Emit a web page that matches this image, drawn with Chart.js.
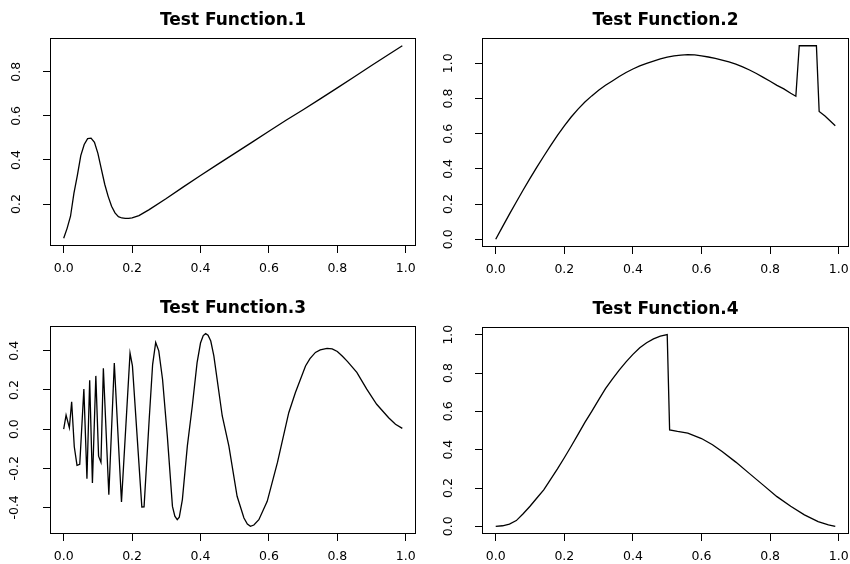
<!DOCTYPE html>
<html>
<head>
<meta charset="utf-8">
<script src="https://cdn.jsdelivr.net/npm/chart.js@4"></script>
<style>
  html, body { margin: 0; padding: 0; background: #fff; }
  #wrap { position: relative; width: 850px; height: 564px; }
  .panel { position: absolute; width: 425px; height: 282px; }
  .panel canvas { display: block; }
</style>
</head>
<body>
<div id="wrap">
  <div class="panel" style="left:0;top:0"><canvas id="p1" width="425" height="282"></canvas></div>
  <div class="panel" style="left:425px;top:0"><canvas id="p2" width="425" height="282"></canvas></div>
  <div class="panel" style="left:0;top:282px"><canvas id="p3" width="425" height="282"></canvas></div>
  <div class="panel" style="left:425px;top:282px"><canvas id="p4" width="425" height="282"></canvas></div>
</div>
<script>
// values
var f1X = [0, 0.01, 0.02, 0.03, 0.04, 0.05, 0.06, 0.07, 0.08, 0.09, 0.10, 0.11, 0.12, 0.13, 0.14, 0.15, 0.16, 0.17, 0.18, 0.19,
  0.20, 0.22, 0.25, 0.30, 0.35, 0.40, 0.45, 0.50, 0.55, 0.60, 0.65, 0.70, 0.75, 0.80, 0.85, 0.90, 0.95, 0.99];
var f1Y = [0.045, 0.09, 0.145, 0.25, 0.33, 0.42, 0.47, 0.497, 0.499, 0.48, 0.43, 0.36, 0.29, 0.235, 0.19, 0.16, 0.143, 0.137, 0.135, 0.135,
  0.137, 0.148, 0.175, 0.225, 0.278, 0.33, 0.38, 0.43, 0.48, 0.53, 0.58, 0.628, 0.677, 0.727, 0.777, 0.828, 0.878, 0.918];

var f2X = [0, 0.02, 0.04, 0.06, 0.08, 0.10, 0.12, 0.14, 0.16, 0.18, 0.20, 0.22, 0.24, 0.26, 0.28, 0.30, 0.32, 0.34, 0.36, 0.38,
  0.40, 0.42, 0.44, 0.46, 0.48, 0.50, 0.52, 0.54, 0.56, 0.58, 0.60, 0.62, 0.64, 0.66, 0.68, 0.70, 0.72, 0.74, 0.76, 0.78,
  0.80, 0.82, 0.84, 0.86, 0.875, 0.885, 0.935, 0.943, 0.96, 0.99];
var f2Y = [0, 0.072, 0.143, 0.212, 0.28, 0.346, 0.41, 0.472, 0.532, 0.59, 0.645, 0.695, 0.74, 0.78, 0.815, 0.847, 0.875, 0.9, 0.925, 0.948,
  0.968, 0.985, 1.0, 1.013, 1.025, 1.035, 1.042, 1.047, 1.05, 1.048, 1.043, 1.036, 1.028, 1.018, 1.008, 0.995, 0.98, 0.962, 0.942, 0.92,
  0.898, 0.875, 0.855, 0.83, 0.813, 1.1, 1.1, 0.726, 0.7, 0.645];

var f3X = [0, 0.007, 0.0166, 0.0233, 0.031, 0.039, 0.047, 0.059, 0.068, 0.076, 0.084, 0.094, 0.102, 0.109, 0.116, 0.132, 0.148, 0.169,
  0.194, 0.201, 0.2285, 0.235, 0.25, 0.26, 0.269, 0.278, 0.289, 0.303, 0.318, 0.325, 0.332, 0.338, 0.347, 0.3615, 0.376, 0.39, 0.40,
  0.408, 0.415, 0.422, 0.43, 0.439, 0.4636, 0.483, 0.507, 0.527, 0.537, 0.546, 0.556, 0.5706, 0.595, 0.625, 0.658, 0.6775, 0.707,
  0.72, 0.736, 0.75, 0.77, 0.785, 0.8, 0.815, 0.83, 0.857, 0.886, 0.915, 0.95, 0.97, 0.99];
var f3Y = [0, 0.072, 0.007, 0.14, -0.09, -0.185, -0.18, 0.205, -0.254, 0.25, -0.275, 0.272, -0.138, -0.169, 0.311, -0.335, 0.338, -0.372,
  0.388, 0.323, -0.398, -0.397, 0.05, 0.33, 0.443, 0.40, 0.255, -0.036, -0.395, -0.445, -0.463, -0.45, -0.36, -0.087, 0.118, 0.34, 0.44,
  0.478, 0.488, 0.48, 0.45, 0.374, 0.067, -0.087, -0.343, -0.454, -0.485, -0.497, -0.49, -0.463, -0.369, -0.17, 0.084, 0.187, 0.323,
  0.36, 0.392, 0.405, 0.413, 0.41, 0.397, 0.372, 0.345, 0.29, 0.204, 0.127, 0.058, 0.025, 0.004];

var f4X = [0, 0.02, 0.04, 0.06, 0.08, 0.10, 0.12, 0.14, 0.16, 0.18, 0.20, 0.22, 0.24, 0.26, 0.28, 0.30, 0.32, 0.34, 0.36, 0.38,
  0.40, 0.42, 0.44, 0.46, 0.48, 0.50, 0.507, 0.53, 0.56, 0.60, 0.632, 0.66, 0.70, 0.74, 0.78, 0.82, 0.86, 0.90, 0.94, 0.97, 0.99];
var f4Y = [0, 0.003, 0.012, 0.03, 0.066, 0.105, 0.148, 0.19, 0.245, 0.3, 0.358, 0.418, 0.48, 0.542, 0.6, 0.66, 0.718, 0.768, 0.815, 0.858,
  0.897, 0.932, 0.958, 0.978, 0.992, 1.0, 0.503, 0.495, 0.486, 0.458, 0.426, 0.39, 0.335, 0.275, 0.215, 0.155, 0.105, 0.06, 0.025, 0.008, 0];

var titles = ['Test Function.1', 'Test Function.2', 'Test Function.3', 'Test Function.4'];
var xTicks = [0, 0.2, 0.4, 0.6, 0.8, 1.0];
var yTicks1 = [0.2, 0.4, 0.6, 0.8];
var yTicks2 = [0, 0.2, 0.4, 0.6, 0.8, 1.0];
var yTicks3 = [-0.4, -0.2, 0, 0.2, 0.4];
var yTicks4 = [0, 0.2, 0.4, 0.6, 0.8, 1.0];
var xLim = [-0.04, 1.03];
var yLim1 = [0.01, 0.953];
var yLim2 = [-0.044, 1.144];
var yLim3 = [-0.536, 0.527];
var yLim4 = [-0.04, 1.04];

// plot box inside each 425x282 panel: left, top, right, bottom
var boxes = [[50, 38, 416, 246], [57, 38, 424, 247], [50, 44, 416, 252], [57, 45, 424, 252]];
var PANEL_H = 282, PANEL_W = 425;
var FONT = 'DejaVu Sans';

var framePlugin = {
  id: 'frame',
  afterDatasetsDraw: function (chart) {
    var a = chart.chartArea;
    var ctx = chart.ctx;
    ctx.save();
    ctx.strokeStyle = '#000';
    ctx.lineWidth = 1;
    ctx.strokeRect(Math.round(a.left) + 0.5, Math.round(a.top) + 0.5,
      Math.round(a.right - a.left) - 1, Math.round(a.bottom - a.top) - 1);
    ctx.restore();
  },
};

function toPoints(xs, ys) {
  return xs.map(function (x, i) { return { x: x, y: ys[i] }; });
}

function panel(id, idx, xs, ys, yTicks, yLim) {
  var box = boxes[idx];
  var titleGap = 17;
  var titleLine = 17 * 1.2;
  new Chart(document.getElementById(id), {
    type: 'line',
    data: {
      datasets: [{
        data: toPoints(xs, ys),
        borderColor: '#000',
        borderWidth: 1.3,
        pointRadius: 0,
        tension: 0,
        fill: false,
      }],
    },
    options: {
      responsive: false,
      animation: false,
      layout: { padding: { left: 0, top: 0, bottom: 0, right: PANEL_W - box[2] } },
      plugins: {
        legend: { display: false },
        tooltip: { enabled: false },
        title: {
          display: true,
          text: titles[idx],
          color: '#000',
          fullSize: false,
          font: { family: FONT, weight: 'bold', size: 17, lineHeight: 1.2 },
          padding: { top: box[1] - titleGap - titleLine / 2, bottom: titleGap - titleLine / 2 },
        },
      },
      scales: {
        x: {
          type: 'linear',
          min: xLim[0],
          max: xLim[1],
          grid: { drawOnChartArea: false, drawTicks: true, tickLength: 7, color: '#000', lineWidth: 1 },
          border: { display: false },
          ticks: {
            color: '#000',
            font: { family: FONT, size: 12.5 },
            padding: 8,
            minRotation: 0,
            maxRotation: 0,
            autoSkip: false,
            callback: function (v) { return v.toFixed(1); },
          },
          afterBuildTicks: function (s) { s.ticks = xTicks.map(function (v) { return { value: v }; }); },
          afterFit: function (s) { s.height = PANEL_H - box[3]; s.paddingLeft = 0; s.paddingRight = 0; },
        },
        y: {
          type: 'linear',
          min: yLim[0],
          max: yLim[1],
          grid: { drawOnChartArea: false, drawTicks: true, tickLength: 7, color: '#000', lineWidth: 1 },
          border: { display: false },
          ticks: {
            color: '#000',
            font: { family: FONT, size: 12.5 },
            padding: 16,
            minRotation: 90,
            maxRotation: 90,
            crossAlign: 'center',
            autoSkip: false,
            callback: function (v) { return v.toFixed(1); },
          },
          afterBuildTicks: function (s) { s.ticks = yTicks.map(function (v) { return { value: v }; }); },
          afterFit: function (s) { s.width = box[0]; s.paddingTop = 0; s.paddingBottom = 0; },
        },
      },
    },
    plugins: [framePlugin],
  });
}

panel('p1', 0, f1X, f1Y, yTicks1, yLim1);
panel('p2', 1, f2X, f2Y, yTicks2, yLim2);
panel('p3', 2, f3X, f3Y, yTicks3, yLim3);
panel('p4', 3, f4X, f4Y, yTicks4, yLim4);
</script>
</body>
</html>
